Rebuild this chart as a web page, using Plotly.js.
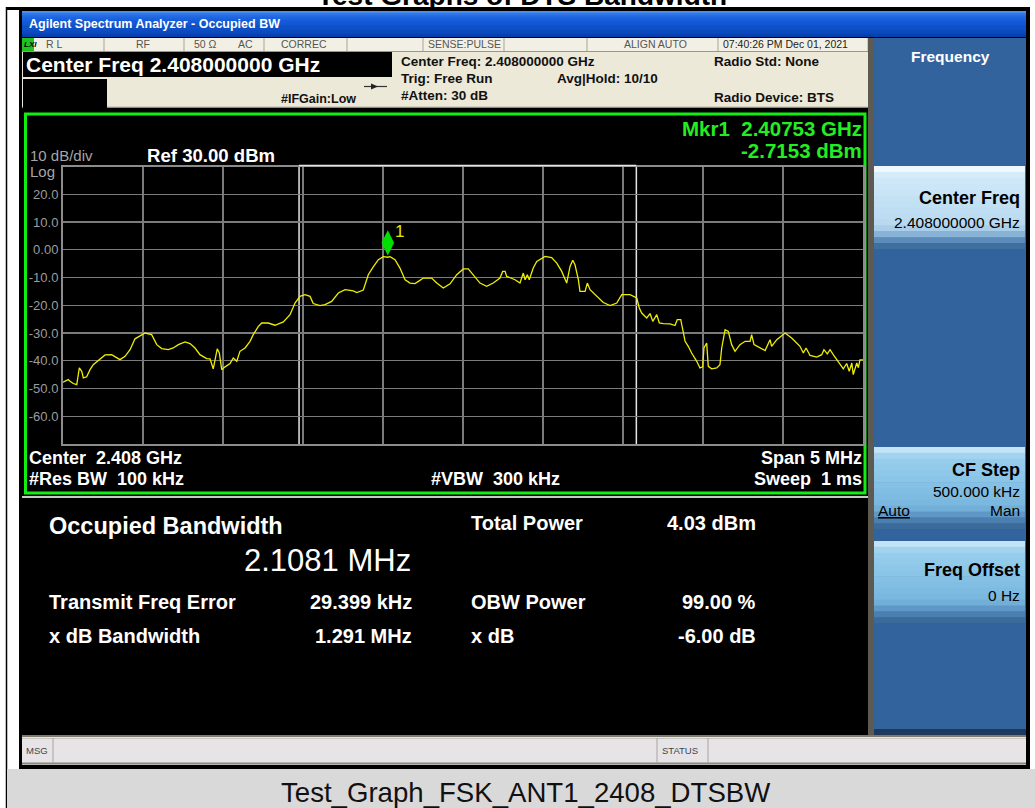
<!DOCTYPE html>
<html><head><meta charset="utf-8">
<script src="https://cdn.plot.ly/plotly-3.0.1.min.js"></script>
<style>html,body{margin:0;padding:0;background:#fff;}#chart{width:1035px;height:808px;}</style>
</head><body><div id="chart"></div>
<script>
// ---------------- data ----------------
const freqMHz = [2405.500,2405.533,2405.544,2405.564,2405.586,2405.594,2405.602,2405.617,2405.627,2405.648,
2405.669,2405.689,2405.731,2405.763,2405.804,2405.836,2405.856,2405.888,2405.919,2405.950,
2405.981,2406.013,2406.054,2406.086,2406.117,2406.158,2406.189,2406.221,2406.263,2406.294,
2406.325,2406.356,2406.398,2406.419,2406.439,2406.450,2406.464,2406.477,2406.492,2406.513,
2406.544,2406.564,2406.586,2406.606,2406.638,2406.669,2406.689,2406.721,2406.742,2406.783,
2406.825,2406.877,2406.919,2406.950,2406.981,2407.013,2407.044,2407.064,2407.106,2407.138,
2407.179,2407.221,2407.263,2407.314,2407.336,2407.377,2407.408,2407.439,2407.471,2407.502,
2407.530,2407.544,2407.575,2407.606,2407.638,2407.669,2407.700,2407.721,2407.752,2407.804,
2407.836,2407.877,2407.919,2407.961,2408.002,2408.033,2408.064,2408.106,2408.148,2408.189,
2408.231,2408.248,2408.263,2408.273,2408.325,2408.356,2408.377,2408.388,2408.402,2408.414,
2408.439,2408.461,2408.513,2408.554,2408.586,2408.617,2408.648,2408.669,2408.686,2408.700,
2408.721,2408.731,2408.763,2408.777,2408.794,2408.825,2408.877,2408.919,2408.961,2408.992,
2409.044,2409.086,2409.102,2409.117,2409.148,2409.169,2409.186,2409.211,2409.227,2409.252,
2409.294,2409.325,2409.339,2409.361,2409.373,2409.388,2409.408,2409.429,2409.461,2409.481,
2409.498,2409.506,2409.523,2409.533,2409.554,2409.586,2409.606,2409.617,2409.638,2409.658,
2409.679,2409.700,2409.731,2409.763,2409.794,2409.804,2409.819,2409.856,2409.888,2409.919,
2409.929,2409.961,2410.013,2410.054,2410.106,2410.127,2410.144,2410.169,2410.211,2410.242,
2410.256,2410.277,2410.294,2410.314,2410.346,2410.377,2410.398,2410.414,2410.430,2410.439,
2410.461,2410.471,2410.481,2410.500];
const levelDbm = [-47.7,-46.8,-47.4,-48.2,-48.6,-46.0,-42.6,-43.8,-46.2,-45.8,
-43.2,-41.4,-39.3,-37.9,-37.8,-39.0,-39.6,-38.4,-36.0,-32.1,
-31.2,-30.0,-30.6,-34.2,-35.6,-36.0,-35.4,-34.2,-33.2,-33.8,
-35.4,-37.8,-39.2,-39.3,-42.9,-40.2,-35.7,-37.2,-43.2,-42.2,
-41.0,-39.0,-40.2,-36.6,-35.4,-33.0,-30.6,-27.6,-26.4,-26.4,
-27.2,-26.0,-23.4,-19.2,-16.8,-16.2,-16.8,-19.4,-20.1,-19.8,
-18.6,-15.6,-14.4,-14.8,-15.4,-14.5,-9.0,-6.2,-3.6,-2.5,
-2.7,-2.5,-3.6,-6.6,-10.8,-12.0,-12.2,-11.4,-10.2,-10.2,
-12.0,-13.8,-12.3,-9.0,-6.9,-6.9,-9.0,-12.0,-13.2,-12.0,
-10.2,-7.8,-7.8,-9.6,-10.8,-12.0,-8.4,-10.8,-9.0,-10.8,
-6.6,-4.2,-2.4,-2.8,-4.8,-7.8,-12.0,-6.0,-3.8,-5.4,
-10.8,-15.0,-15.0,-12.0,-14.4,-16.2,-19.0,-20.1,-19.2,-16.2,
-16.2,-17.4,-21.0,-22.8,-24.6,-23.0,-25.8,-23.4,-26.4,-26.6,
-26.7,-27.3,-25.2,-25.2,-28.8,-33.0,-34.8,-37.2,-40.2,-42.6,
-42.2,-35.4,-33.6,-42.0,-42.9,-42.6,-41.4,-35.4,-28.8,-29.4,
-34.2,-36.6,-34.2,-33.0,-33.0,-30.6,-34.2,-35.4,-36.3,-32.4,
-34.8,-32.4,-30.0,-31.8,-34.8,-37.2,-35.4,-38.1,-38.7,-37.8,
-36.0,-37.5,-36.0,-37.8,-40.2,-42.9,-41.0,-43.8,-40.8,-45.0,
-40.8,-42.5,-39.7,-39.7];
const yTickVals = [20,10,0,-10,-20,-30,-40,-50,-60];
const yTickText = ['20.0','10.0','0.00','-10.0','-20.0','-30.0','-40.0','-50.0','-60.0'];
const centerMHz = 2408.0;
const spanMHz = 5;
const refLevel = 30;
const dbPerDiv = 10;
const mkrFreqMHz = 2407.53;
const mkrLevel = -2.7153;
const obwMHz = 2.1081;
const freqErrMHz = 0.029399;

// ---------------- helpers ----------------
const W = 1035, H = 808;
const X = p => p / W, Y = p => 1 - p / H;
const FONT = 'Liberation Sans, Arial, sans-serif';
const shapes = [], ann = [];
function rect(x0, y0, x1, y1, fill, layer) {
  shapes.push({type:'rect', xref:'paper', yref:'paper', x0:X(x0), x1:X(x1), y0:Y(y1), y1:Y(y0),
    fillcolor:fill, line:{width:0}, layer:layer || 'below'});
}
function hline(x0, x1, y, color, w) {
  shapes.push({type:'line', xref:'paper', yref:'paper', x0:X(x0), x1:X(x1), y0:Y(y), y1:Y(y),
    line:{color:color, width:w || 1}, layer:'below'});
}
function vline(x, y0, y1, color, w) {
  shapes.push({type:'line', xref:'paper', yref:'paper', x0:X(x), x1:X(x), y0:Y(y0), y1:Y(y1),
    line:{color:color, width:w || 1}, layer:'below'});
}
function vgrad(x0, y0, x1, y1, cols) {
  const n = cols.length, h = (y1 - y0) / n;
  cols.forEach((c, i) => rect(x0, y0 + i * h, x1, Math.min(y1, y0 + (i + 1) * h + 0.6), c));
}
function txt(x, y, s, size, color, opt) {
  opt = opt || {};
  ann.push({xref:'paper', yref:'paper', x:X(x), y:Y(y), text:opt.bold ? '<b>' + s + '</b>' : s,
    showarrow:false, xanchor:opt.anchor || 'left', yanchor:'middle', borderpad:0,
    font:{family:opt.family || FONT, size:size, color:color}});
}

// ---------------- frame ----------------
vline(6.5, 7, 808, '#000', 1.5);
rect(6, 7, 1030, 10, '#000');
rect(19, 7, 1030, 769, '#000');
rect(7, 769, 1035, 808, '#d9d9d9');
txt(522, -4.5, 'Test Graphs of DTS Bandwidth', 28, '#000', {bold:true, anchor:'center'});
txt(525, 792, 'Test_Graph_FSK_ANT1_2408_DTSBW', 27.6, '#111', {anchor:'center'});

// title bar
vgrad(22, 11, 1026, 37, ['#4a8ef4','#3279ec','#226ae4','#1a62de','#155cd9','#1258d5','#1055d1','#0e52cc','#0c4fc7','#0b4bc0','#0946b6','#073fa8']);
txt(28, 24, 'Agilent Spectrum Analyzer - Occupied BW', 12.5, '#fff', {bold:true});

// status row
rect(22, 38, 870, 52, '#f2f0e4');
hline(22, 870, 51.5, '#9c9684', 1);
[104, 184, 264, 347, 423, 504, 587, 718, 868].forEach(x => vline(x, 38, 51, '#aaa493', 1));
rect(22, 38, 34, 51, '#1fc21f');
txt(22.5, 44.5, '<i>LXI</i>', 8, '#000', {bold:true});
const stc = '#555555';
txt(45, 44.5, 'R L', 10.5, stc);
txt(143, 44.5, 'RF', 10.5, stc, {anchor:'center'});
txt(193, 44.5, '50 Ω', 10.5, stc);
txt(237, 44.5, 'AC', 10.5, stc);
txt(280, 44.5, 'CORREC', 10.5, stc);
txt(502, 44.5, 'SENSE:PULSE', 10.5, stc, {anchor:'right'});
txt(688, 44.5, 'ALIGN AUTO', 10.5, stc, {anchor:'right'});
txt(722, 44.5, '07:40:26 PM Dec 01, 2021', 10.5, '#222');

// header area
rect(22, 52, 870, 108, '#ece9d8');
hline(22, 870, 107.5, '#8f8a7a', 1.5);
rect(23, 52, 392, 77, '#000');
rect(23, 79, 107, 108, '#000');
txt(25, 65, 'Center Freq 2.408000000 GHz', 21, '#fff', {bold:true});
txt(280, 99, '#IFGain:Low', 12.5, '#111', {bold:true});
hline(364, 387, 86.5, '#333', 1.2);
shapes.push({type:'path', xref:'paper', yref:'paper', layer:'below',
  path:'M' + X(371) + ',' + Y(83.5) + ' L' + X(378) + ',' + Y(86.5) + ' L' + X(371) + ',' + Y(89.5) + ' Z',
  fillcolor:'#222', line:{width:0}});
txt(400, 62, 'Center Freq: 2.408000000 GHz', 13.5, '#111', {bold:true});
txt(400, 78.5, 'Trig: Free Run', 13.5, '#111', {bold:true});
txt(400, 95, '#Atten: 30 dB', 13.5, '#111', {bold:true});
txt(556, 78.5, 'Avg|Hold: 10/10', 13.5, '#111', {bold:true});
txt(713, 62, 'Radio Std: None', 13.5, '#111', {bold:true});
txt(713, 97, 'Radio Device: BTS', 13.5, '#111', {bold:true});

// softkey panel
rect(868, 38, 874, 735, '#5d5a52');
rect(874, 38, 1026, 735, '#33639d');
rect(874, 729, 1026, 735, '#1d3a5e');
txt(950, 57, 'Frequency', 15.5, '#fff', {bold:true, anchor:'center'});
vgrad(874, 166, 1025, 249, ['#eef8fe','#d6ecf9','#cfe8f8','#cbe6f7','#c8e4f6','#c5e2f5','#c2e0f4','#bfdef3','#bcdcf2','#b8d9f0','#aacde8','#88b2d6','#5c8cba','#3f6f9f']);
txt(1021, 198, 'Center Freq', 18, '#000', {bold:true, anchor:'right'});
txt(1021, 222, '2.408000000 GHz', 15.5, '#000', {anchor:'right'});
const btn2 = ['#c3e4f6','#a2d3ef','#97cdec','#92caea','#8ec7e9','#8ac4e7','#86c1e5','#82bee3','#7ebbe1','#7ab8df','#72afd8','#5f98c6','#4a7fb0','#3a6b9b'];
vgrad(874, 447, 1025, 529, btn2);
txt(1021, 470, 'CF Step', 18, '#000', {bold:true, anchor:'right'});
txt(1021, 491, '500.000 kHz', 15.5, '#000', {anchor:'right'});
txt(877, 510, '<u>Auto</u>', 15.5, '#000');
txt(1021, 510, 'Man', 15.5, '#000', {anchor:'right'});
vgrad(874, 541, 1025, 623, btn2);
txt(1021, 570, 'Freq Offset', 18, '#000', {bold:true, anchor:'right'});
txt(1021, 595, '0 Hz', 15.5, '#000', {anchor:'right'});

// display area
rect(22, 108, 868, 735, '#000');
shapes.push({type:'rect', xref:'paper', yref:'paper', layer:'below', x0:X(25.5), x1:X(865), y0:Y(493), y1:Y(114),
  line:{color:'#12ee12', width:3}, fillcolor:'rgba(0,0,0,0)'});
hline(22, 868, 497, '#c8c8c8', 2);
txt(29, 156, '10 dB/div', 15, '#a6a6a6');
txt(146, 156, 'Ref 30.00 dBm', 18.6, '#fff', {bold:true});
txt(29, 172, 'Log', 15, '#a6a6a6');
txt(863, 128.5, 'Mkr1  2.40753 GHz', 20.5, '#22ee22', {bold:true, anchor:'right'});
txt(863, 150.5, '-2.7153 dBm', 20.5, '#22ee22', {bold:true, anchor:'right'});
txt(28, 458, 'Center  2.408 GHz', 18, '#fff', {bold:true});
txt(28, 479, '#Res BW  100 kHz', 18, '#fff', {bold:true});
txt(430, 479, '#VBW  300 kHz', 18, '#fff', {bold:true});
txt(863, 458, 'Span 5 MHz', 18, '#fff', {bold:true, anchor:'right'});
txt(863, 479, 'Sweep  1 ms', 18, '#fff', {bold:true, anchor:'right'});

// results panel
txt(48, 526, 'Occupied Bandwidth', 23.5, '#fff', {bold:true});
txt(243, 560, '2.1081 MHz', 31, '#fff');
txt(470, 523, 'Total Power', 20, '#fff', {bold:true});
txt(757, 523, '4.03 dBm', 20, '#fff', {bold:true, anchor:'right'});
txt(48, 602, 'Transmit Freq Error', 20, '#fff', {bold:true});
txt(413, 602, '29.399 kHz', 20, '#fff', {bold:true, anchor:'right'});
txt(470, 602, 'OBW Power', 20, '#fff', {bold:true});
txt(757, 602, '99.00 %', 20, '#fff', {bold:true, anchor:'right'});
txt(48, 636, 'x dB Bandwidth', 20, '#fff', {bold:true});
txt(413, 636, '1.291 MHz', 20, '#fff', {bold:true, anchor:'right'});
txt(470, 636, 'x dB', 20, '#fff', {bold:true});
txt(757, 636, '-6.00 dB', 20, '#fff', {bold:true, anchor:'right'});

// message bar
rect(22, 735, 1026, 765, '#e7e4e8');
hline(22, 1026, 736, '#7d7a70', 2);
hline(22, 1026, 738.5, '#c8c6c0', 1);
hline(22, 1026, 763.5, '#8a877e', 2);
[53, 657, 708].forEach(x => vline(x, 738, 763, '#a8a5a0', 1));
txt(25, 750.5, 'MSG', 9.5, '#444');
txt(661, 750.5, 'STATUS', 9.5, '#444');

// ---------------- chart ----------------
const obwLeft = centerMHz + freqErrMHz - obwMHz / 2;
const obwRight = centerMHz + freqErrMHz + obwMHz / 2;
[obwLeft, obwRight].forEach(f => shapes.push({type:'line', xref:'x', yref:'y domain', x0:f, x1:f, y0:0, y1:1.004,
  line:{color:'#e6e6e6', width:1.5}, layer:'below'}));
shapes.push({type:'line', xref:'x', yref:'y domain', x0:obwLeft, x1:obwRight, y0:1.004, y1:1.004,
  line:{color:'#e6e6e6', width:1.5}, layer:'above'});

ann.push({xref:'x', yref:'y', x:mkrFreqMHz, y:mkrLevel, text:'1', showarrow:false, xshift:12, yshift:26,
  font:{family:FONT, size:17, color:'#e8e800'}});

const traces = [
  {type:'scatter', mode:'lines', x:freqMHz, y:levelDbm, line:{color:'#eeee00', width:1.3}, hoverinfo:'skip'},
  {type:'scatter', mode:'markers', x:[mkrFreqMHz], y:[mkrLevel + 5.2],
    marker:{symbol:'diamond-tall', size:18, color:'#00e000', line:{width:0}}, hoverinfo:'skip'}
];

const layout = {
  width:W, height:H, margin:{l:0, r:0, t:0, b:0},
  paper_bgcolor:'#ffffff', plot_bgcolor:'#000000', showlegend:false,
  xaxis:{domain:[X(63), X(863)], range:[centerMHz - spanMHz / 2, centerMHz + spanMHz / 2],
    tick0:centerMHz - spanMHz / 2, dtick:spanMHz / 10, showticklabels:false, ticks:'',
    showgrid:true, gridcolor:'#7b7b7b', gridwidth:1.4, zeroline:false,
    showline:true, mirror:true, linecolor:'#8c8c8c', linewidth:2, fixedrange:true},
  yaxis:{domain:[Y(444), Y(166.5)], range:[refLevel - 10 * dbPerDiv, refLevel],
    tickvals:yTickVals, ticktext:yTickText, ticks:'',
    tickfont:{family:FONT, size:13, color:'#9c9c9c'},
    showgrid:true, gridcolor:'#7b7b7b', gridwidth:1.4, zeroline:false,
    showline:true, mirror:true, linecolor:'#8c8c8c', linewidth:2, fixedrange:true},
  shapes:shapes, annotations:ann
};
Plotly.newPlot('chart', traces, layout, {staticPlot:true, displayModeBar:false});
</script>
</body></html>
